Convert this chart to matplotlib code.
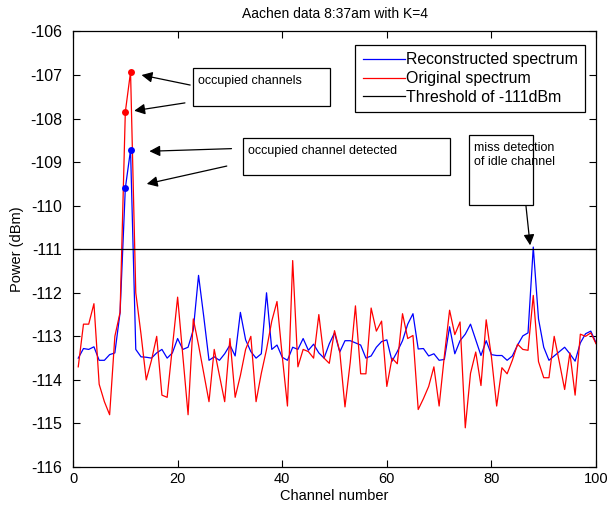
import numpy as np
import matplotlib
matplotlib.use('Agg')
import matplotlib.pyplot as plt
from matplotlib.patches import Rectangle

plt.rcParams['font.family'] = ['Liberation Sans', 'DejaVu Sans']
plt.rcParams['axes.unicode_minus'] = False

channels = np.arange(1, 101)

# reconstructed power per channel (dBm)
reconstructed = [
    -113.50, -113.28, -113.30, -113.24, -113.55, -113.55, -113.42, -113.38, -112.45, -109.60,
    -108.72, -113.30, -113.47, -113.48, -113.50, -113.38, -113.30, -113.50, -113.38, -113.05,
    -113.30, -113.25, -112.85, -111.60, -112.55, -113.55, -113.47, -113.55, -113.40, -113.20,
    -113.45, -112.45, -113.08, -113.35, -113.50, -113.40, -112.00, -113.30, -113.20, -113.48,
    -113.55, -113.25, -113.30, -113.05, -113.32, -113.18, -113.38, -113.50, -113.17, -112.92,
    -113.36, -113.10, -113.10, -113.15, -113.20, -113.50, -113.45, -113.25, -113.12, -113.08,
    -113.57, -113.35, -113.10, -112.72, -112.48, -113.29, -113.28, -113.45, -113.40, -113.55,
    -113.53, -112.78, -113.40, -113.10, -112.95, -112.72, -113.08, -113.44, -113.10, -113.42,
    -113.44, -113.44, -113.55, -113.45, -113.20, -112.99, -112.92, -110.95, -112.60, -113.25,
    -113.55, -113.45, -113.35, -113.25, -113.40, -113.57, -113.15, -112.94, -112.88, -113.15,
]

# measured power per channel (dBm)
original = [
    -113.70, -112.72, -112.72, -112.25, -114.10, -114.50, -114.80, -113.00, -112.45, -107.85,
    -106.93, -112.00, -112.95, -114.00, -113.55, -113.00, -114.35, -114.40, -113.25, -112.10,
    -113.45, -114.80, -112.60, -113.20, -113.85, -114.50, -113.30, -113.90, -114.50, -113.05,
    -114.40, -113.90, -113.30, -113.00, -114.50, -113.85, -113.30, -112.65, -112.20, -113.45,
    -114.60, -111.26, -113.70, -113.30, -113.35, -113.50, -112.50, -113.50, -113.62, -112.87,
    -113.35, -114.62, -113.60, -112.30, -113.86, -113.86, -112.35, -112.88, -112.65, -114.15,
    -113.50, -113.63, -112.48, -113.05, -112.98, -114.68, -114.43, -114.15, -113.70, -114.60,
    -113.45, -112.40, -112.96, -112.67, -115.10, -113.85, -113.36, -114.13, -112.62, -113.47,
    -114.60, -113.72, -113.86, -113.55, -113.18, -113.30, -113.32, -112.06, -113.58, -113.95,
    -113.95, -113.00, -113.60, -114.22, -113.38, -114.35, -112.95, -113.00, -112.92, -113.17,
]

threshold = -111
occupied = [10, 11]

fig = plt.figure(figsize=(6.11, 5.11), dpi=100)
ax = fig.add_axes([0.1195, 0.0861, 0.856, 0.8523])

ax.plot(channels, reconstructed, color='b', lw=0.9, label='Reconstructed spectrum')
ax.plot(channels, original, color='r', lw=0.9, label='Original spectrum')
ax.axhline(threshold, color='k', lw=0.9, label='Threshold of -111dBm')

idx = [c - 1 for c in occupied]
ax.plot([channels[i] for i in idx], [original[i] for i in idx], 'o', color='r', ms=5, mec='none')
ax.plot([channels[i] for i in idx], [reconstructed[i] for i in idx], 'o', color='b', ms=5, mec='none')

ax.set_xlim(0, 100)
ax.set_ylim(-116, -106)
ax.set_xticks(np.arange(0, 101, 20))
ax.set_yticks(np.arange(-116, -105, 1))
ax.tick_params(direction='in', top=True, right=True, length=5, labelsize=10.5)
ax.tick_params(axis='y', labelsize=11.5, pad=8)
for s in ax.spines.values():
    s.set_linewidth(0.9)

ax.set_title('Aachen data 8:37am with K=4', fontsize=10, pad=10)
ax.set_xlabel('Channel number', fontsize=10.5, labelpad=2)
ax.set_ylabel('Power (dBm)', fontsize=10.5, labelpad=4)

leg = ax.legend(loc='upper right', bbox_to_anchor=(0.979, 0.969), borderaxespad=0,
                fancybox=False, edgecolor='k', framealpha=1, fontsize=11.4,
                handlelength=2.7, handletextpad=0.05, labelspacing=0.25,
                borderpad=0.45)
leg.get_frame().set_linewidth(0.9)

# annotation boxes
boxes = [
    (22.9, -107.71, 26.2, 0.87, 'occupied channels'),
    (32.5, -109.30, 39.6, 0.85, 'occupied channel detected'),
    (75.7, -109.99, 12.3, 1.61, 'miss detection\nof idle channel'),
]
for x0, y0, w, h, txt in boxes:
    ax.add_patch(Rectangle((x0, y0), w, h, fill=True, fc='w', ec='k', lw=0.9, zorder=4))
    ax.text(x0 + 1.0, y0 + h - 0.15, txt, fontsize=9, va='top', ha='left', zorder=5,
            linespacing=1.3)

arrows = [
    ((13.1, -107.00), (22.4, -107.23)),
    ((11.7, -107.82), (21.4, -107.64)),
    ((14.6, -108.75), (30.3, -108.69)),
    ((14.1, -109.50), (29.4, -109.09)),
    ((87.4, -110.91), (86.6, -110.00)),
]
for tip, tail in arrows:
    ax.annotate('', xy=tip, xytext=tail,
                arrowprops=dict(arrowstyle='-|>', color='k', lw=0.9,
                                mutation_scale=16, shrinkA=0, shrinkB=0),
                zorder=5)

fig.savefig('out.png', dpi=100)
